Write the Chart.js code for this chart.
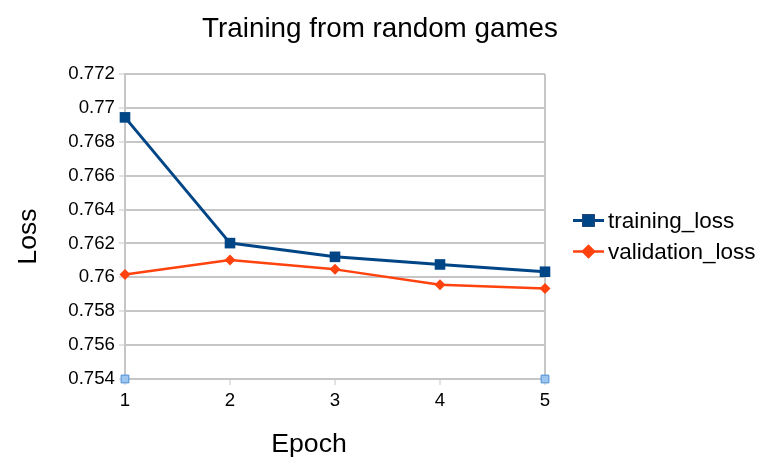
<!DOCTYPE html>
<html>
<head>
<meta charset="utf-8">
<script src="https://cdn.jsdelivr.net/npm/chart.js@4"></script>
<style>
  html, body { margin: 0; padding: 0; background: #ffffff; }
  #wrap { width: 765px; height: 475px; position: relative; }
</style>
</head>
<body>
<div id="wrap"><canvas id="c" width="765" height="475"></canvas></div>
<script>
const chartTitle = 'Training from random games';
const xAxisTitle = 'Epoch';
const yAxisTitle = 'Loss';
const epochs = ['1', '2', '3', '4', '5'];
const trainingLoss = [0.76944, 0.76202, 0.76121, 0.76076, 0.76033];
const validationLoss = [0.76017, 0.76102, 0.76047, 0.75956, 0.75934];
const cornerMarks = [0.754, null, null, null, 0.754];
const yMin = 0.754;
const yMax = 0.772;
const yStep = 0.002;

const FONT = "'Liberation Sans', Arial, sans-serif";
const GRID = '#c6c6c6';

const textPlugin = {
  id: 'customTexts',
  afterDraw(chart) {
    const ctx = chart.ctx;
    ctx.save();
    ctx.fillStyle = '#000000';
    ctx.textAlign = 'center';
    ctx.textBaseline = 'middle';
    ctx.font = '27.8px ' + FONT;
    ctx.fillText(chartTitle, 380, 29);
    ctx.font = '26.67px ' + FONT;
    ctx.fillText(xAxisTitle, 309, 445);
    ctx.translate(29, 236.5);
    ctx.rotate(-Math.PI / 2);
    ctx.fillText(yAxisTitle, 0, 0);
    ctx.restore();
  }
};

const legendPlugin = {
  id: 'customLegend',
  afterDraw(chart) {
    const ctx = chart.ctx;
    const rows = [220.5, 251.5];
    let r = 0;
    chart.data.datasets.forEach((ds) => {
      if (!ds.showInLegend) return;
      const y = rows[r++];
      ctx.save();
      ctx.strokeStyle = ds.borderColor;
      ctx.lineWidth = ds.borderWidth;
      ctx.beginPath();
      ctx.moveTo(573, y);
      ctx.lineTo(604, y);
      ctx.stroke();
      Chart.helpers.drawPoint(ctx, {
        pointStyle: ds.pointStyle,
        radius: ds.legendRadius,
        borderWidth: 0,
        rotation: 0
      }, 588.5, y);
      ctx.fillStyle = ds.pointBackgroundColor;
      ctx.fill();
      ctx.font = '22.5px ' + FONT;
      ctx.fillStyle = '#000000';
      ctx.textAlign = 'left';
      ctx.textBaseline = 'middle';
      ctx.fillText(ds.label, 608, y + 1);
      ctx.restore();
    });
  }
};

const lastIdx = epochs.length - 1;

new Chart(document.getElementById('c'), {
  type: 'line',
  data: {
    labels: epochs,
    datasets: [
      {
        label: 'training_loss',
        data: trainingLoss,
        borderColor: '#004586',
        backgroundColor: '#004586',
        pointBackgroundColor: '#004586',
        pointBorderColor: '#004586',
        borderWidth: 3,
        pointStyle: 'rect',
        pointRadius: 7.5,
        pointBorderWidth: 0,
        legendRadius: 9,
        showInLegend: true,
        tension: 0,
        clip: false,
        order: 2
      },
      {
        label: 'validation_loss',
        data: validationLoss,
        borderColor: '#ff420e',
        backgroundColor: '#ff420e',
        pointBackgroundColor: '#ff420e',
        pointBorderColor: '#ff420e',
        borderWidth: 2.5,
        pointStyle: 'rectRot',
        pointRadius: 5.5,
        pointBorderWidth: 0,
        legendRadius: 7,
        showInLegend: true,
        tension: 0,
        clip: false,
        order: 1
      },
      {
        label: '',
        data: cornerMarks,
        showLine: false,
        borderColor: '#4a8fd6',
        backgroundColor: '#9cc6ef',
        pointBackgroundColor: '#9cc6ef',
        pointBorderColor: '#4a8fd6',
        pointStyle: 'rect',
        pointRadius: 5.5,
        pointBorderWidth: 1,
        showInLegend: false,
        clip: false,
        order: 3
      }
    ]
  },
  options: {
    responsive: false,
    animation: false,
    devicePixelRatio: 1,
    layout: { padding: { left: 0, right: 220, top: 74, bottom: 0 } },
    plugins: {
      legend: { display: false },
      title: { display: false },
      tooltip: { enabled: false }
    },
    elements: { line: { borderJoinStyle: 'round' } },
    scales: {
      x: {
        type: 'category',
        offset: false,
        grid: {
          color: (c) => (c.index === 0 || c.index === lastIdx) ? GRID : 'rgba(0,0,0,0)',
          lineWidth: 2,
          tickLength: 6,
          tickColor: GRID,
          tickWidth: 1
        },
        border: { color: GRID, width: 2 },
        ticks: { color: '#000000', font: { family: FONT, size: 18.67 }, padding: 5, maxRotation: 0, autoSkip: false },
        title: { display: false },
        afterFit(scale) { scale.height = 96; }
      },
      y: {
        min: yMin,
        max: yMax,
        grid: { color: GRID, lineWidth: 2, tickLength: 6, tickColor: GRID, tickWidth: 1 },
        border: { color: GRID, width: 2 },
        ticks: {
          stepSize: yStep,
          color: '#000000',
          font: { family: FONT, size: 18.67 },
          padding: 4,
          callback: (v) => String(Number(Number(v).toFixed(3)))
        },
        title: { display: false },
        afterFit(scale) { scale.width = 125; }
      }
    }
  },
  plugins: [textPlugin, legendPlugin]
});
</script>
</body>
</html>
